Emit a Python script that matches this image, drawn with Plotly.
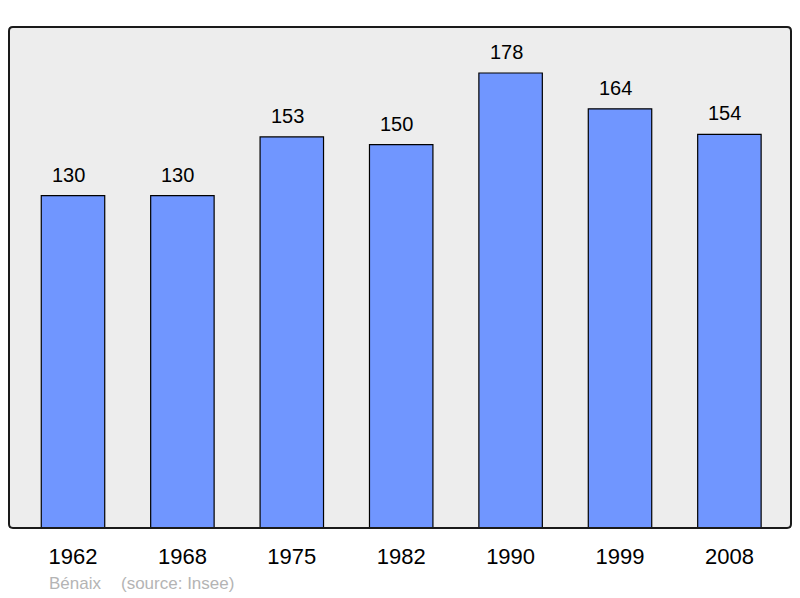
import plotly.graph_objects as go

years = ["1962", "1968", "1975", "1982", "1990", "1999", "2008"]
population = [130, 130, 153, 150, 178, 164, 154]
commune = "Bénaix"
source = "(source: Insee)"

xs = list(range(len(years)))

FONT = "Liberation Sans, Arial, sans-serif"
# page body has an 8px margin; plot area in window: x 9..791, y 27..528
L, T = 1, 19
PW, PH = 782, 501

fig = go.Figure()
fig.add_trace(go.Bar(
    x=xs, y=population, width=0.58,
    marker=dict(color="#7096ff", line=dict(color="#000000", width=1.2)),
    hoverinfo="skip",
))

for xi, v in zip(xs, population):
    fig.add_annotation(x=xi, y=v, text=str(v), showarrow=False,
                       yanchor="bottom", yshift=8, xshift=-4.5,
                       font=dict(family=FONT, size=20, color="#000000"))

fy = -(583 - 528) / PH
fig.add_annotation(xref="paper", yref="paper", x=(47 - 9) / PW, y=fy,
                   xanchor="left", yanchor="middle", text=commune, showarrow=False,
                   font=dict(family=FONT, size=17, color="#b4b4b4"))
fig.add_annotation(xref="paper", yref="paper", x=(119 - 9) / PW, y=fy,
                   xanchor="left", yanchor="middle", text=source, showarrow=False,
                   font=dict(family=FONT, size=17, color="#b4b4b4"))

# rounded frame
r = 0.005
ry = r * PW / PH
path = (f"M {r},0 L {1-r},0 Q 1,0 1,{ry} L 1,{1-ry} Q 1,1 {1-r},1 "
        f"L {r},1 Q 0,1 0,{1-ry} L 0,{ry} Q 0,0 {r},0 Z")
fig.add_shape(type="path", xref="paper", yref="paper", path=path,
              line=dict(color="#1a1a1a", width=2), layer="above")

fig.update_layout(
    width=800, height=598,
    margin=dict(l=L, r=800 - L - PW, t=T, b=598 - T - PH),
    paper_bgcolor="#ffffff", plot_bgcolor="#ededed",
    showlegend=False,
    xaxis=dict(range=[-0.585, 6.563], tickvals=xs, ticktext=years,
               showgrid=False, zeroline=False, ticks="outside", ticklen=9,
               tickcolor="rgba(0,0,0,0)",
               tickfont=dict(family=FONT, size=22, color="#000000")),
    yaxis=dict(range=[0, 196], showgrid=False, zeroline=False, showticklabels=False, ticks=""),
)

fig.write_html("out.html")
